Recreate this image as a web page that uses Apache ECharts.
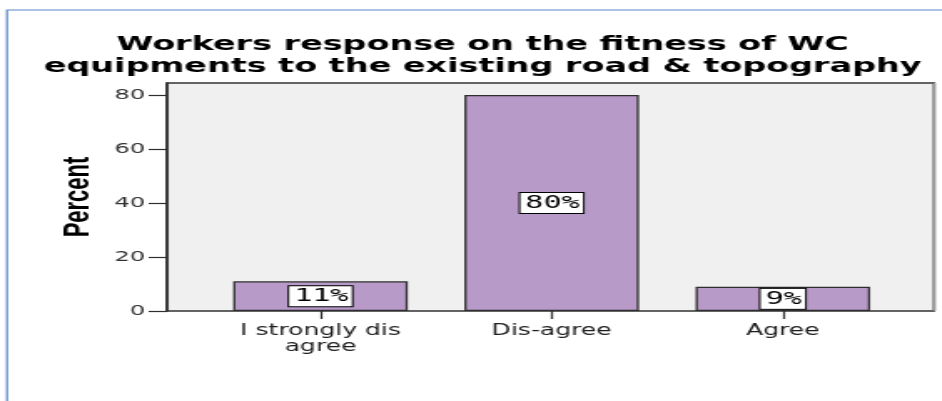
<!DOCTYPE html>
<html>
<head>
<meta charset="utf-8">
<title>Workers response on the fitness of WC equipments</title>
<script src="https://cdn.jsdelivr.net/npm/echarts@6/dist/echarts.min.js"></script>
<style>
  html, body { margin: 0; padding: 0; background: #ffffff; overflow: hidden; }
  #wrap { width: 942px; height: 401px; overflow: hidden; }
  /* the chart is laid out narrow and widened horizontally, like the exported SPSS graphic */
  #chart { width: 564px; height: 401px; transform: scaleX(1.67); transform-origin: 0 0; }
</style>
</head>
<body>
<div id="wrap"><div id="chart"></div></div>
<script>
// Response categories and their share of workers (%)
const categories = ['I strongly dis\nagree', 'Dis-agree', 'Agree'];
const percents = [11, 80, 9];
const yTicks = { min: 0, max: 84.4, interval: 20 };
const titleLines = [
  'Workers response on the fitness of WC',
  'equipments to the existing road & topography'
];

const chart = echarts.init(document.getElementById('chart'));

const axisColor = '#2e2e2e';

chart.setOption({
  animation: false,
  backgroundColor: '#ffffff',
  graphic: [
    // outer frame
    {
      type: 'rect',
      shape: { x: 4.2, y: 10, width: 700, height: 500 },
      style: { fill: 'none', stroke: '#5b88c8', lineWidth: 1.2 },
      silent: true
    },
    {
      type: 'text',
      x: 289,
      y: 34,
      style: {
        text: titleLines.join('\n'),
        fontFamily: 'DejaVu Sans',
        fontWeight: 'bold',
        fontSize: 20,
        lineHeight: 22,
        fill: '#000000',
        align: 'center',
        verticalAlign: 'top'
      },
      silent: true
    },
    // soft grey right edge of the plot frame
    {
      type: 'line',
      shape: { x1: 559.6, y1: 83, x2: 559.6, y2: 311 },
      style: { stroke: '#9a9a9a', lineWidth: 1.6 },
      silent: true,
      z: 10
    }
  ],
  grid: [
    {
      left: 100, right: 4.7, top: 83, bottom: 90,
      show: true,
      backgroundColor: '#f0f0f0',
      borderColor: '#333333',
      borderWidth: 1.4
    },
    { left: 122.7, right: 26, top: 83, bottom: 90 }
  ],
  xAxis: [
    { gridIndex: 0, type: 'value', min: 0, max: 1, show: false },
    {
      gridIndex: 1,
      type: 'category',
      data: categories,
      boundaryGap: true,
      axisLine: { show: false },
      axisTick: { show: true, alignWithLabel: true, length: 8, lineStyle: { color: axisColor, width: 1.2 } },
      axisLabel: {
        margin: 12,
        color: '#1e1e1e',
        fontFamily: 'DejaVu Sans',
        fontSize: 15,
        lineHeight: 16
      }
    }
  ],
  yAxis: [
    {
      gridIndex: 0,
      type: 'value',
      min: yTicks.min,
      max: yTicks.max,
      interval: yTicks.interval,
      name: 'Percent',
      nameLocation: 'middle',
      nameRotate: 90,
      nameGap: 40,
      nameTextStyle: {
        fontFamily: 'Liberation Sans',
        fontWeight: 'bold',
        fontSize: 22,
        color: '#000000'
      },
      axisLine: { show: true, lineStyle: { color: axisColor, width: 1.6 } },
      axisTick: { show: true, length: 11, lineStyle: { color: axisColor, width: 1.2 } },
      axisLabel: {
        margin: 13,
        color: '#333333',
        fontFamily: 'DejaVu Sans',
        fontSize: 14.5,
        showMaxLabel: false
      },
      splitLine: { show: false }
    },
    { gridIndex: 1, type: 'value', min: yTicks.min, max: yTicks.max, show: false }
  ],
  series: [
    {
      type: 'bar',
      xAxisIndex: 1,
      yAxisIndex: 1,
      data: percents,
      barWidth: '75.5%',
      itemStyle: { color: '#b89ac8', borderColor: '#2e2e2e', borderWidth: 1.3 },
      label: {
        show: true,
        position: 'inside',
        formatter: '{c}%',
        fontFamily: 'DejaVu Sans Mono',
        fontSize: 18,
        lineHeight: 18,
        color: '#000000',
        backgroundColor: '#ffffff',
        borderColor: '#000000',
        borderWidth: 1,
        padding: [1, 2, 1, 3]
      }
    }
  ]
});
</script>
</body>
</html>
